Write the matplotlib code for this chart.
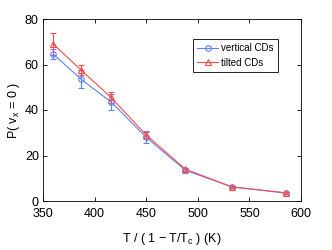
import matplotlib
matplotlib.use('Agg')
import matplotlib.pyplot as plt

plt.rcParams['font.family'] = ['Liberation Sans', 'DejaVu Sans']

# data
T = [360, 387, 416, 450, 488, 533, 585]
vert = [64.5, 53.5, 43.5, 28.0, 13.5, 6.2, 3.5]
vert_err = [2.2, 4.0, 3.5, 2.7, 1.0, 0.5, 0.5]
tilt = [69.0, 57.5, 45.5, 29.0, 14.0, 6.2, 3.6]
tilt_err = [5.0, 2.3, 2.5, 1.5, 0.7, 0.4, 0.4]

blue = '#5f7fff'
red = '#ff4a4a'

fig = plt.figure(figsize=(3.32, 2.5), dpi=100)
ax = fig.add_axes([43/332, 1 - 201/250, 258/332, 182/250])

ax.errorbar(T, vert, yerr=vert_err, fmt='none', ecolor=blue, elinewidth=0.8, capsize=2, capthick=0.8)
ax.errorbar(T, tilt, yerr=tilt_err, fmt='none', ecolor=red, elinewidth=0.8, capsize=2, capthick=0.8)
ax.plot(T, vert, color=blue, marker='o', mfc='none', ms=4, lw=0.8, mew=0.8, label='vertical CDs')
ax.plot(T, tilt, color=red, marker='^', mfc='none', ms=4, lw=0.8, mew=0.8, label='tilted CDs')

ax.set_xlim(350, 600)
ax.set_ylim(0, 80)
ax.set_xticks([350, 400, 450, 500, 550, 600])
ax.set_yticks([0, 20, 40, 60, 80])
ax.tick_params(direction='in', top=True, right=True, labelsize=9, length=3, width=0.6)
ax.tick_params(axis='x', pad=5)
ax.tick_params(axis='y', pad=3)
for s in ax.spines.values():
    s.set_linewidth(0.6)

ax.set_xlabel('T / ( 1 \u2212 T/T$_\\mathregular{c}$ ) (K)', fontsize=9, labelpad=8)
ax.set_ylabel('P( v$_\\mathregular{x}$ = 0 )', fontsize=9, labelpad=2)

leg = ax.legend(loc='upper left', bbox_to_anchor=(0.58, 0.89), fontsize=7,
                frameon=True, fancybox=False, edgecolor='black', framealpha=1,
                handlelength=2.2, borderpad=0.45, labelspacing=0.45, handletextpad=0.3,
                borderaxespad=0)
leg.get_frame().set_linewidth(0.6)

fig.savefig('out.png', dpi=100)
